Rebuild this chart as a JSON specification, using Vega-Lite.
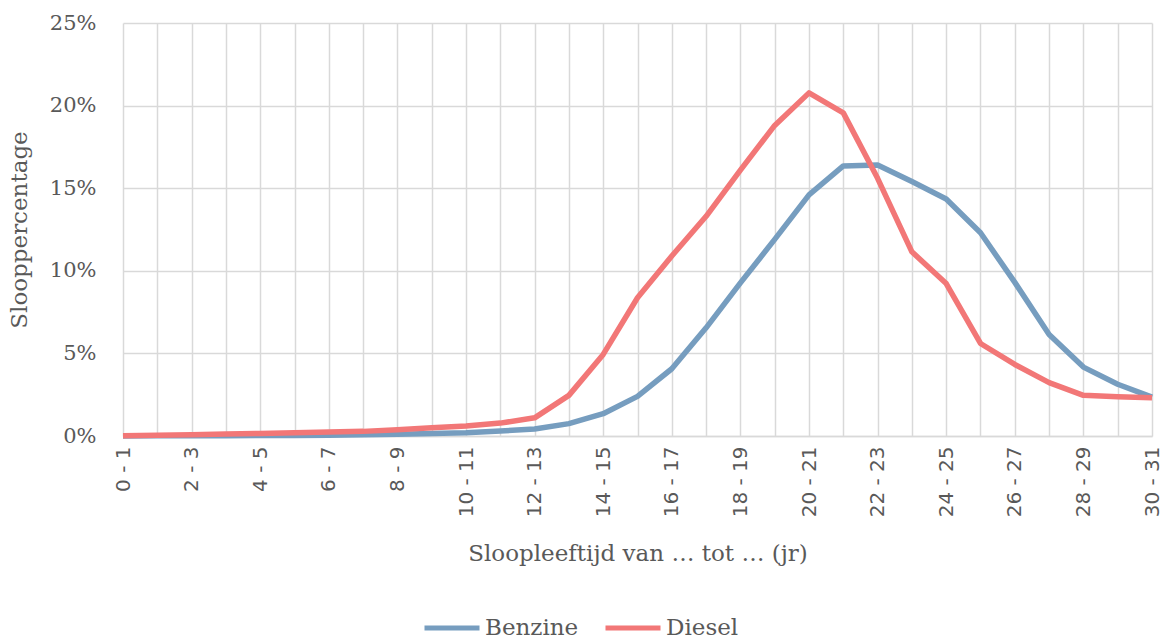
{
  "$schema": "https://vega.github.io/schema/vega-lite/v6.json",
  "width": 1029,
  "height": 413,
  "autosize": {"type": "none"},
  "padding": {"left": 123, "top": 23, "right": 18, "bottom": 207},
  "background": "white",
  "config": {"view": {"stroke": null}},
  "datasets": {
    "sloop": [
      {"leeftijd": "0 - 1", "brandstof": "Benzine", "pct": 0.0},
      {"leeftijd": "1 - 2", "brandstof": "Benzine", "pct": 0.01},
      {"leeftijd": "2 - 3", "brandstof": "Benzine", "pct": 0.02},
      {"leeftijd": "3 - 4", "brandstof": "Benzine", "pct": 0.02},
      {"leeftijd": "4 - 5", "brandstof": "Benzine", "pct": 0.03},
      {"leeftijd": "5 - 6", "brandstof": "Benzine", "pct": 0.03},
      {"leeftijd": "6 - 7", "brandstof": "Benzine", "pct": 0.05},
      {"leeftijd": "7 - 8", "brandstof": "Benzine", "pct": 0.07},
      {"leeftijd": "8 - 9", "brandstof": "Benzine", "pct": 0.1},
      {"leeftijd": "9 - 10", "brandstof": "Benzine", "pct": 0.15},
      {"leeftijd": "10 - 11", "brandstof": "Benzine", "pct": 0.2},
      {"leeftijd": "11 - 12", "brandstof": "Benzine", "pct": 0.3},
      {"leeftijd": "12 - 13", "brandstof": "Benzine", "pct": 0.42},
      {"leeftijd": "13 - 14", "brandstof": "Benzine", "pct": 0.75},
      {"leeftijd": "14 - 15", "brandstof": "Benzine", "pct": 1.35},
      {"leeftijd": "15 - 16", "brandstof": "Benzine", "pct": 2.4},
      {"leeftijd": "16 - 17", "brandstof": "Benzine", "pct": 4.07},
      {"leeftijd": "17 - 18", "brandstof": "Benzine", "pct": 6.55},
      {"leeftijd": "18 - 19", "brandstof": "Benzine", "pct": 9.27},
      {"leeftijd": "19 - 20", "brandstof": "Benzine", "pct": 11.9},
      {"leeftijd": "20 - 21", "brandstof": "Benzine", "pct": 14.6},
      {"leeftijd": "21 - 22", "brandstof": "Benzine", "pct": 16.35},
      {"leeftijd": "22 - 23", "brandstof": "Benzine", "pct": 16.4},
      {"leeftijd": "23 - 24", "brandstof": "Benzine", "pct": 15.4},
      {"leeftijd": "24 - 25", "brandstof": "Benzine", "pct": 14.35},
      {"leeftijd": "25 - 26", "brandstof": "Benzine", "pct": 12.3},
      {"leeftijd": "26 - 27", "brandstof": "Benzine", "pct": 9.3},
      {"leeftijd": "27 - 28", "brandstof": "Benzine", "pct": 6.15},
      {"leeftijd": "28 - 29", "brandstof": "Benzine", "pct": 4.17},
      {"leeftijd": "29 - 30", "brandstof": "Benzine", "pct": 3.13},
      {"leeftijd": "30 - 31", "brandstof": "Benzine", "pct": 2.35},
      {"leeftijd": "0 - 1", "brandstof": "Diesel", "pct": 0.02},
      {"leeftijd": "1 - 2", "brandstof": "Diesel", "pct": 0.04},
      {"leeftijd": "2 - 3", "brandstof": "Diesel", "pct": 0.08},
      {"leeftijd": "3 - 4", "brandstof": "Diesel", "pct": 0.12},
      {"leeftijd": "4 - 5", "brandstof": "Diesel", "pct": 0.15},
      {"leeftijd": "5 - 6", "brandstof": "Diesel", "pct": 0.2},
      {"leeftijd": "6 - 7", "brandstof": "Diesel", "pct": 0.24},
      {"leeftijd": "7 - 8", "brandstof": "Diesel", "pct": 0.28},
      {"leeftijd": "8 - 9", "brandstof": "Diesel", "pct": 0.38},
      {"leeftijd": "9 - 10", "brandstof": "Diesel", "pct": 0.5},
      {"leeftijd": "10 - 11", "brandstof": "Diesel", "pct": 0.6},
      {"leeftijd": "11 - 12", "brandstof": "Diesel", "pct": 0.78},
      {"leeftijd": "12 - 13", "brandstof": "Diesel", "pct": 1.1},
      {"leeftijd": "13 - 14", "brandstof": "Diesel", "pct": 2.46},
      {"leeftijd": "14 - 15", "brandstof": "Diesel", "pct": 4.94},
      {"leeftijd": "15 - 16", "brandstof": "Diesel", "pct": 8.37},
      {"leeftijd": "16 - 17", "brandstof": "Diesel", "pct": 10.9},
      {"leeftijd": "17 - 18", "brandstof": "Diesel", "pct": 13.3},
      {"leeftijd": "18 - 19", "brandstof": "Diesel", "pct": 16.1},
      {"leeftijd": "19 - 20", "brandstof": "Diesel", "pct": 18.8},
      {"leeftijd": "20 - 21", "brandstof": "Diesel", "pct": 20.77},
      {"leeftijd": "21 - 22", "brandstof": "Diesel", "pct": 19.56},
      {"leeftijd": "22 - 23", "brandstof": "Diesel", "pct": 15.6},
      {"leeftijd": "23 - 24", "brandstof": "Diesel", "pct": 11.15},
      {"leeftijd": "24 - 25", "brandstof": "Diesel", "pct": 9.23},
      {"leeftijd": "25 - 26", "brandstof": "Diesel", "pct": 5.6},
      {"leeftijd": "26 - 27", "brandstof": "Diesel", "pct": 4.33},
      {"leeftijd": "27 - 28", "brandstof": "Diesel", "pct": 3.23},
      {"leeftijd": "28 - 29", "brandstof": "Diesel", "pct": 2.46},
      {"leeftijd": "29 - 30", "brandstof": "Diesel", "pct": 2.38},
      {"leeftijd": "30 - 31", "brandstof": "Diesel", "pct": 2.32}
    ]
  },
  "data": {"name": "sloop"},
  "mark": {"type": "line", "strokeWidth": 5.5, "strokeJoin": "round"},
  "encoding": {
    "x": {
      "field": "leeftijd",
      "type": "ordinal",
      "sort": null,
      "scale": {"type": "point", "padding": 0},
      "axis": {
        "title": "Sloopleeftijd van … tot … (jr)",
        "titleFont": "DejaVu Serif",
        "titleFontSize": 23,
        "titleFontWeight": "normal",
        "titleColor": "#595959",
        "titlePadding": 26,
        "labelFont": "DejaVu Sans",
        "labelFontSize": 20,
        "labelColor": "#595959",
        "labelAngle": -90,
        "labelPadding": 10,
        "labelOverlap": false,
        "labelExpr": "parseInt(datum.value) % 2 == 0 ? datum.label : ''",
        "ticks": false,
        "domain": true,
        "domainColor": "#d9d9d9",
        "domainWidth": 1.5,
        "grid": true,
        "gridColor": "#d9d9d9",
        "gridWidth": 1.5
      }
    },
    "y": {
      "field": "pct",
      "type": "quantitative",
      "scale": {"domain": [0, 25], "nice": false},
      "axis": {
        "title": "Slooppercentage",
        "titleFont": "DejaVu Serif",
        "titleFontSize": 23,
        "titleFontWeight": "normal",
        "titleColor": "#595959",
        "titlePadding": 18,
        "labelFont": "DejaVu Serif",
        "labelFontSize": 21,
        "labelColor": "#595959",
        "labelPadding": 27,
        "values": [0, 5, 10, 15, 20, 25],
        "labelExpr": "datum.value + '%'",
        "ticks": false,
        "domain": false,
        "grid": true,
        "gridColor": "#d9d9d9",
        "gridWidth": 1.5
      }
    },
    "color": {
      "field": "brandstof",
      "type": "nominal",
      "scale": {"domain": ["Benzine", "Diesel"], "range": ["#769dbf", "#f27777"]},
      "legend": {
        "title": null,
        "orient": "none",
        "legendX": 299,
        "legendY": 575,
        "direction": "horizontal",
        "symbolType": "stroke",
        "symbolSize": 3025,
        "symbolStrokeWidth": 5,
        "labelFont": "DejaVu Serif",
        "labelFontSize": 23,
        "labelColor": "#595959",
        "labelOffset": 3,
        "columnPadding": 16
      }
    }
  }
}
